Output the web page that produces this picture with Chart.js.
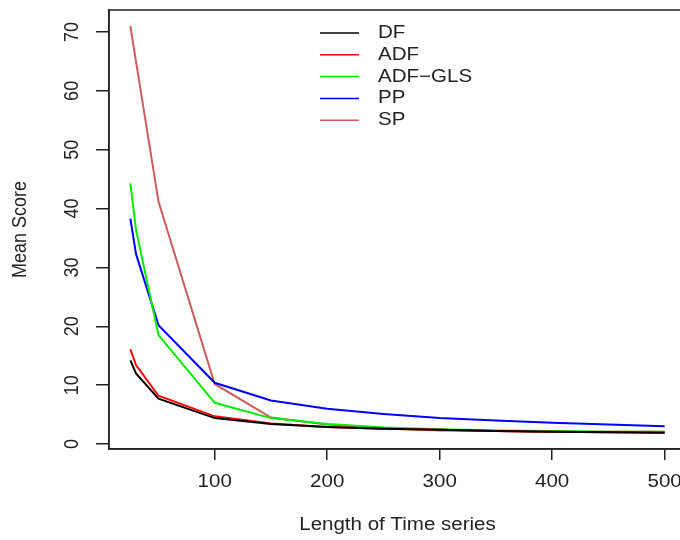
<!DOCTYPE html>
<html>
<head>
<meta charset="utf-8">
<script src="https://cdn.jsdelivr.net/npm/chart.js@4/dist/chart.umd.min.js"></script>
<style>
  html, body { margin: 0; padding: 0; background: #fff; overflow: hidden; }
  #wrap { width: 700px; height: 540px; }
</style>
</head>
<body>
<div id="wrap"><canvas id="chart" width="700" height="540"></canvas></div>
<script>
// data
const lengths = [25, 30, 50, 100, 150, 200, 250, 300, 350, 400, 450, 500];
const dfScore     = [14.2, 12.0, 7.7, 4.4, 3.4, 2.9, 2.6, 2.4, 2.2, 2.1, 2.0, 1.9];
const adfScore    = [16.1, 13.4, 8.2, 4.7, 3.5, 2.9, 2.6, 2.4, 2.2, 2.1, 2.0, 1.9];
const adfGlsScore = [44.3, 36.4, 18.5, 7.0, 4.4, 3.4, 2.8, 2.5, 2.3, 2.2, 2.1, 2.1];
const ppScore     = [38.3, 32.3, 20.2, 10.4, 7.4, 6.0, 5.1, 4.4, 4.0, 3.6, 3.3, 3.0];
const spScore     = [71.0, 65.0, 41.2, 10.2, 4.5, 3.3, 2.7, 2.3, 2.2, 2.1, 2.1, 2.1];

const seriesNames = ["DF", "ADF", "ADF-GLS", "PP", "SP"];
const seriesColors = ["#000000", "#ff0000", "#00ee00", "#0000ff", "#cd5c5c"];
const xTicks = [100, 200, 300, 400, 500];
const yTicks = [0, 10, 20, 30, 40, 50, 60, 70];
const xTitle = "Length of Time series";
const yTitle = "Mean Score";

const allScores = [dfScore, adfScore, adfGlsScore, ppScore, spScore];

const FONT = '18px "Liberation Sans", Arial, sans-serif';
const STRETCH = 1.14; // the picture is a bit wider than tall

// draws text horizontally stretched like the reference
function stretchText(ctx, txt, x, y, rot, align) {
    ctx.save();
    ctx.translate(x, y);
    ctx.scale(STRETCH, 1);
    if (rot) ctx.rotate(rot);
    ctx.textAlign = align || "center";
    ctx.textBaseline = "middle";
    ctx.fillText(txt, 0, 0);
    ctx.restore();
}

const rAxes = {
    id: "rAxes",
    afterDraw(chart) {
        const ctx = chart.ctx;
        const a = chart.chartArea;
        const xs = chart.scales.x, ys = chart.scales.y;
        ctx.save();
        // box round the plot
        ctx.strokeStyle = "#222";
        ctx.lineWidth = 1.5;
        ctx.strokeRect(a.left, a.top, a.right - a.left, a.bottom - a.top);

        ctx.fillStyle = "#222";
        ctx.font = FONT;
        xTicks.forEach(v => stretchText(ctx, String(v), xs.getPixelForValue(v), 482));
        yTicks.forEach(v => stretchText(ctx, String(v), 72, ys.getPixelForValue(v), -Math.PI / 2));
        stretchText(ctx, xTitle, (a.left + a.right) / 2, 525);
        stretchText(ctx, yTitle, 20, (a.top + a.bottom) / 2, -Math.PI / 2);

        // legend, no frame
        chart.data.datasets.forEach((ds, i) => {
            const y = 33 + i * 21.8;
            ctx.strokeStyle = ds.borderColor;
            ctx.lineWidth = 1.5;
            ctx.beginPath();
            ctx.moveTo(320, y);
            ctx.lineTo(359, y);
            ctx.stroke();
            ctx.fillStyle = "#222";
            stretchText(ctx, ds.label.replace("-", "\u2212"), 378, y, 0, "left");
        });
        ctx.restore();
    }
};

const ctx = document.getElementById("chart").getContext("2d");
const chart = new Chart(ctx, {
    type: "line",
    data: {
        datasets: seriesNames.map((name, i) => ({
            label: name,
            data: lengths.map((x, j) => ({ x: x, y: allScores[i][j] })),
            borderColor: seriesColors[i],
            borderWidth: 2,
            pointRadius: 0,
            tension: 0,
            fill: false
        }))
    },
    options: {
        responsive: false,
        animation: false,
        devicePixelRatio: 1,
        layout: { padding: { top: 10, right: 14, left: 0, bottom: 0 } },
        plugins: { legend: { display: false }, tooltip: { enabled: false } },
        scales: {
            x: {
                type: "linear",
                min: 6,
                max: 519,
                afterBuildTicks: s => { s.ticks = xTicks.map(v => ({ value: v })); },
                afterFit: s => { s.height = 91; },
                ticks: { display: false },
                grid: { drawOnChartArea: false, drawTicks: true, tickLength: 11, color: "#222", lineWidth: 1.5 },
                border: { display: true, color: "#222", width: 1.5 }
            },
            y: {
                min: -0.85,
                max: 73.74,
                afterBuildTicks: s => { s.ticks = yTicks.map(v => ({ value: v })); },
                afterFit: s => { s.width = 109; },
                ticks: { display: false },
                grid: { drawOnChartArea: false, drawTicks: true, tickLength: 13, color: "#222", lineWidth: 1.5 },
                border: { display: true, color: "#222", width: 1.5 }
            }
        }
    },
    plugins: [rAxes]
});
</script>
</body>
</html>
